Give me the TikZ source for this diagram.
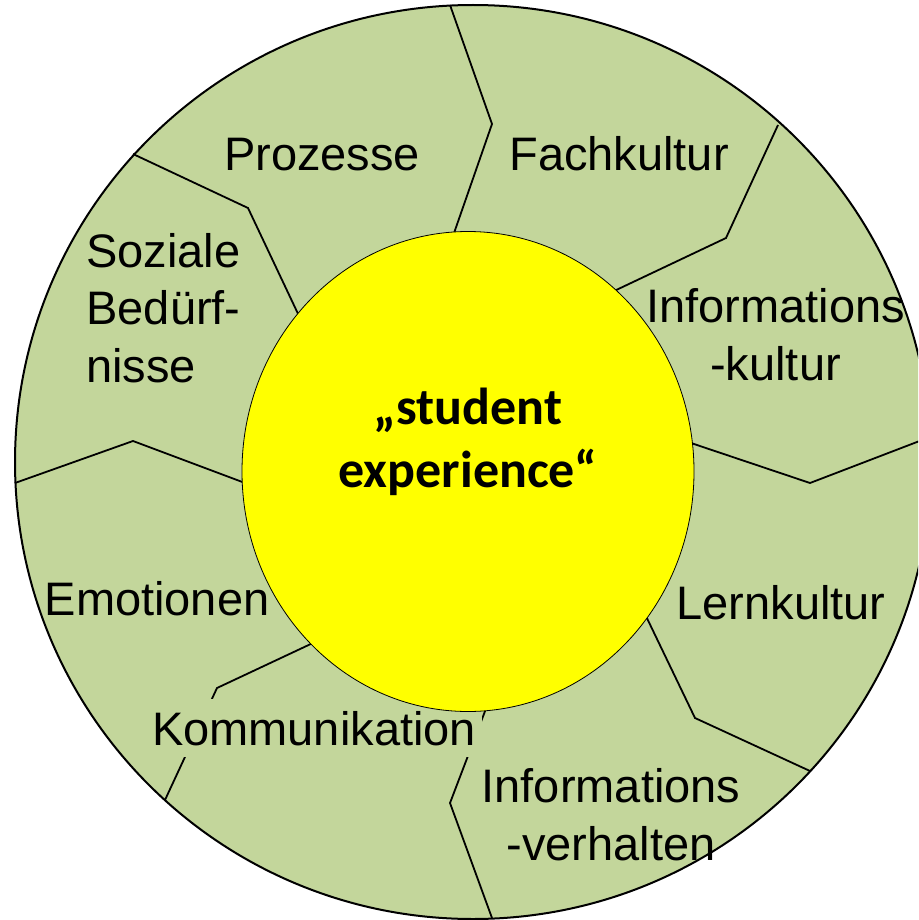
\documentclass[tikz,border=0pt]{standalone}
\usepackage{fontspec}
\setmainfont{Liberation Sans}
\newfontfamily\corefont{Carlito}
\usetikzlibrary{shapes.geometric}
\definecolor{ringgreen}{RGB}{195,214,155}
\definecolor{coreyellow}{RGB}{255,255,0}
\tikzstyle{ring} = [draw=black, line width=1pt, fill=ringgreen]
\tikzstyle{core} = [fill=coreyellow]
\tikzstyle{divider} = [draw=black, line width=0.9pt]
\tikzstyle{topic} = [inner sep=0pt, text=black, font=\fontsize{23.5pt}{28.75pt}\selectfont]
\tikzstyle{coretext} = [inner sep=0pt, align=center, font=\corefont\bfseries\fontsize{26pt}{31.5pt}\selectfont]

\begin{document}
\begin{tikzpicture}[x=0.5pt, y=-0.5pt]
\clip (0,0) rectangle (918,920);

% outer ring
\draw [ring] (473,462) ellipse [x radius=458, y radius=457];

% borders between the sectors
\draw [divider] (450,5) -- (492,124) -- (453,236);
\draw [divider] (778,125) -- (726,238) -- (612,292);
\draw [divider] (930,437) -- (810,483) -- (688,442);
\draw [divider] (810,771) -- (695,718) -- (644,612);
\draw [divider] (492,918) -- (450,803) -- (487,706);
\draw [divider] (165,800) -- (217,688) -- (315,642);
\draw [divider] (15,483) -- (133,441) -- (245,483);
\draw [divider] (133,154) -- (248,208) -- (300,318);

\node (komm) [topic, fill=ringgreen, inner xsep=3pt, inner ysep=6pt, anchor=base] at (314,745) {Kommunikation};

% centre
\draw [core] (468,471.5) ellipse [x radius=226, y radius=240];
\node (experience) [coretext, anchor=base] at (468,487) {„student\\experience“};

% (base of a node with several lines = its last line)
\node (prozesse) [topic, anchor=base] at (322,170) {Prozesse};
\node (fach) [topic, anchor=base] at (619,170) {Fachkultur};
\node (infokultur) [topic, align=center, anchor=base] at (775.5,380) {Informations\\-kultur};
\node (lern) [topic, anchor=base] at (781,619) {Lernkultur};
\node (infoverhalten) [topic, align=center, anchor=base] at (611,860) {Informations\\-verhalten};
\node (emotionen) [topic, anchor=base] at (157,615) {Emotionen};
\node (sozial) [topic, align=left, anchor=base west] at (86,382) {Soziale\\Bedürf-\\nisse};

\end{tikzpicture}
\end{document}
